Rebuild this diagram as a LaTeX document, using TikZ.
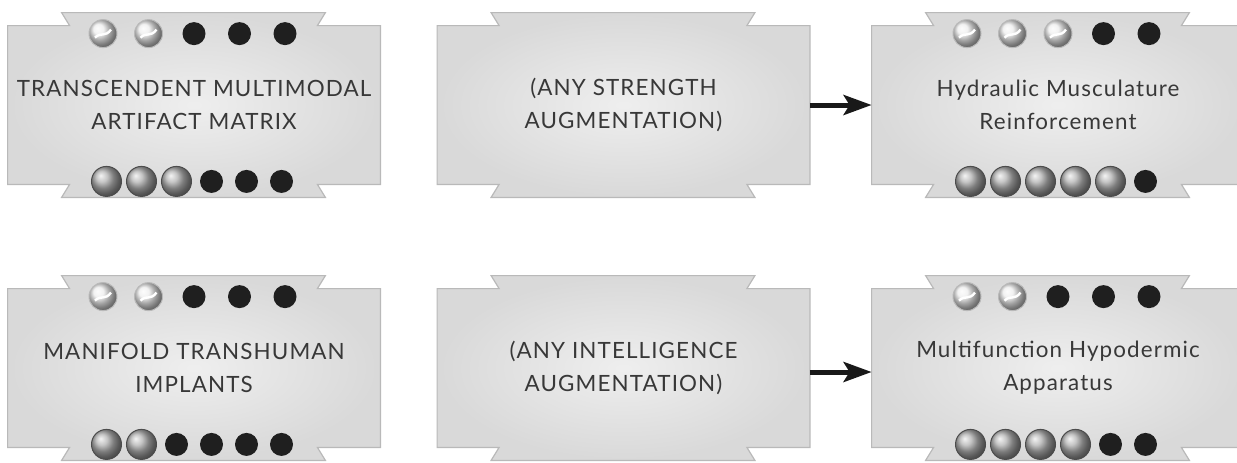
\documentclass[tikz,border=0pt]{standalone}
\usepackage{fontspec}
\newfontfamily\plaquefont[LetterSpace=5]{Lato}
\usetikzlibrary{arrows.meta,calc}
\pgfdeclarelayer{background}
\pgfsetlayers{background,main}
\tikzset{
  plaque/.style     = {align=center, text=black!78, inner sep=0pt,
                       minimum width=186pt, minimum height=79pt,
                       font=\plaquefont\fontsize{11.2}{16.5}\selectfont,
                       execute at begin node={\rule{0pt}{12pt}}},
  plaquefill/.style = {draw=gray!55, line width=0.6pt,
                       inner color=gray!13, outer color=gray!30},
  lightpip/.style   = {shade, ball color=gray!14, draw=gray!55, line width=0.5pt},
  greypip/.style    = {shade, ball color=gray!60, draw=gray!60!black, line width=0.5pt},
  darkpip/.style    = {fill=black!88},
  linkar/.style     = {-{Stealth[length=14pt,width=10pt,inset=3pt]},
                       line width=2.5pt, black!90}
}
% outline of a plaque with its two tabs, behind the node
\newcommand{\plaqueoutline}[1]{%
  \shadedraw[plaquefill] (#1.north west) -- ($(#1.north west)+(62,0)$) -- ++(-8,-13)
    -- ($(#1.north east)+(-55,-13)$) -- ++(-8,13) -- (#1.north east)
    -- (#1.south east) -- ($(#1.south east)+(-63,0)$) -- ++(8,13)
    -- ($(#1.south west)+(54,13)$) -- ++(8,-13) -- (#1.south west) -- cycle;}
% five pips on the upper edge: #2 light ones, the rest dark
\newcommand{\toppips}[2]{%
  \foreach \i in {1,...,5}{%
    \path ($(#1.north)+({(\i-3)*45.5},8)$) coordinate (pc);
    \ifnum\i>#2\relax
      \path[darkpip] (pc) circle[radius=11.5];
    \else
      \path[lightpip] (pc) circle[radius=14];
      \draw[white, line width=1.2pt] ($(pc)+(-8,4)$) .. controls ($(pc)+(-2,-2)$)
        and ($(pc)+(2,4)$) .. ($(pc)+(8,-4)$);
    \fi}}
% six pips on the lower edge: #2 grey ones, the rest dark
\newcommand{\botpips}[2]{%
  \foreach \i in {1,...,6}{%
    \path ($(#1.south)+({(\i-3.5)*35},-3)$) coordinate (pc);
    \ifnum\i>#2\relax
      \path[darkpip] (pc) circle[radius=11.5];
    \else
      \path[greypip] (pc) circle[radius=15];
    \fi}}

\begin{document}
\begin{tikzpicture}[x=0.5pt, y=-0.5pt]
  \useasboundingbox (0,0) rectangle (1237,462);
  % plaques
  \node[plaque] (tma)          at (194,105)   {TRANSCENDENT MULTIMODAL\\ARTIFACT MATRIX};
  \node[plaque] (strength)     at (623.5,105) {(ANY STRENGTH\\AUGMENTATION)};
  \node[plaque] (hydraulic)    at (1058,105)  {Hydraulic Musculature\\Reinforcement};
  \node[plaque] (mti)          at (194,368)   {MANIFOLD TRANSHUMAN\\IMPLANTS};
  \node[plaque] (intelligence) at (623.5,368) {(ANY INTELLIGENCE\\AUGMENTATION)};
  \node[plaque] (hypodermic)   at (1058,368)  {Multifunction Hypodermic\\Apparatus};
  \begin{pgfonlayer}{background}
    \foreach \n in {tma,strength,hydraulic,mti,intelligence,hypodermic}
      {\plaqueoutline{\n}}
  \end{pgfonlayer}
  % pips
  \toppips{tma}{2}        \botpips{tma}{3}
  \toppips{hydraulic}{3}  \botpips{hydraulic}{5}
  \toppips{mti}{2}        \botpips{mti}{2}
  \toppips{hypodermic}{2} \botpips{hypodermic}{4}
  % links
  \draw[linkar] (strength) -- (hydraulic);
  \draw[linkar] ([yshift=-2pt]intelligence.east) -- ([yshift=-2pt]hypodermic.west);
\end{tikzpicture}
\end{document}
